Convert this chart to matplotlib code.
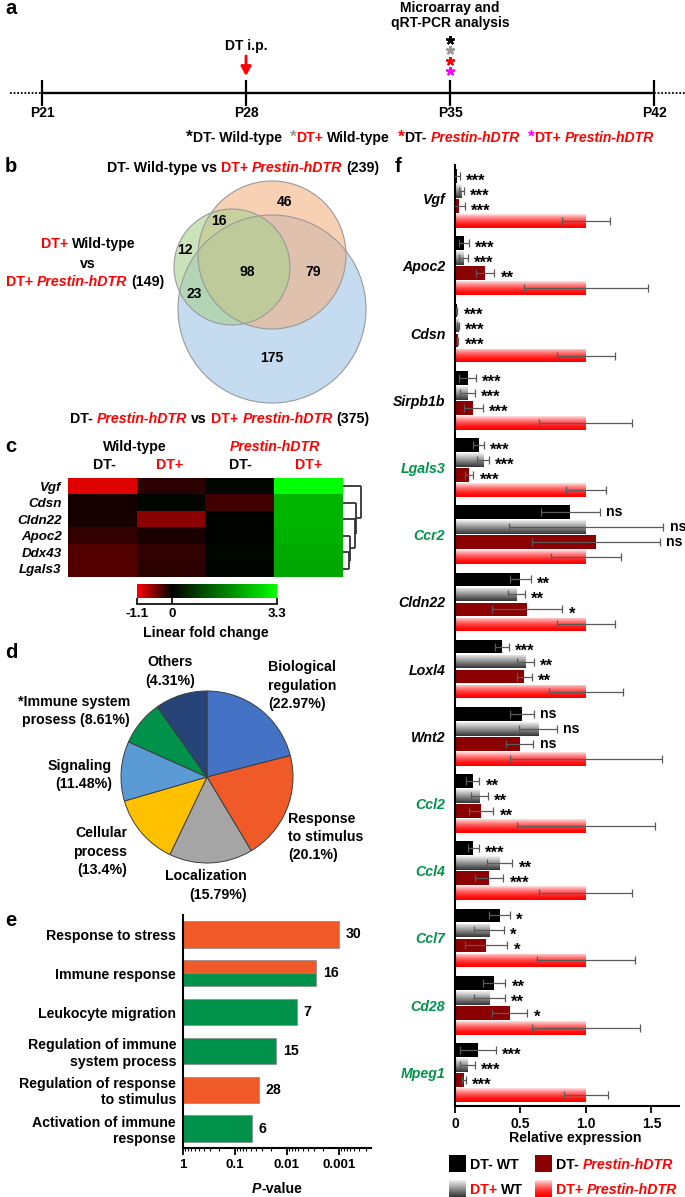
import numpy as np
import matplotlib
matplotlib.use('Agg')
import matplotlib.pyplot as plt
from matplotlib.colors import LinearSegmentedColormap
from matplotlib.patches import Circle, Rectangle
from matplotlib.ticker import LogLocator, NullFormatter, FixedLocator

# ======================= DATA =======================
# panel a
timeline_days = [21, 28, 35, 42]
timeline_labels = ['P21', 'P28', 'P35', 'P42']
injection_day = 28
analysis_day = 35
group_star_colors = ['black', '#999999', 'red', 'magenta']

# panel b (Venn)
venn_counts = [46, 16, 12, 98, 79, 23, 175]
venn_set_sizes = [239, 149, 375]

# panel c (heatmap)
heat_genes = ['Vgf', 'Cdsn', 'Cldn22', 'Apoc2', 'Ddx43', 'Lgals3']
heat_cols = ['DT-', 'DT+', 'DT-', 'DT+']
heat_values = [
    [-0.95, -0.18, 0.08, 3.30],
    [-0.10, 0.08, -0.28, 2.35],
    [-0.10, -0.60, 0.04, 2.35],
    [-0.22, -0.12, 0.04, 2.30],
    [-0.35, -0.22, 0.12, 2.20],
    [-0.35, -0.18, 0.07, 2.15],
]
heat_vmin, heat_vmax = -1.1, 3.3
dendro_merges = [(4, 5, 6.0), (3, 6, 7.0), (2, 7, 12.0), (1, 8, 13.5), (0, 9, 18.5)]

# panel d (pie)
pie_names = ['Biological regulation', 'Response to stimulus', 'Localization',
             'Cellular process', 'Signaling', 'Immune system prosess', 'Others']
pie_percent_text = [22.97, 20.1, 15.79, 13.4, 11.48, 8.61, 4.31]
pie_sizes = [21.0, 20.4, 15.7, 13.4, 11.2, 8.5, 9.8]
pie_colors = ['#4472C4', '#F05A28', '#A5A5A5', '#FFC000', '#5B9BD5', '#00914A', '#264478']

# panel e (GO terms)
go_terms = ['Response to stress', 'Immune response', 'Leukocyte migration',
            'Regulation of immune\nsystem process', 'Regulation of response\nto stimulus',
            'Activation of immune\nresponse']
go_pvalues = [0.001, 0.0027, 0.0065, 0.016, 0.035, 0.047]
go_counts = [30, 16, 7, 15, 28, 6]
go_category = ['stimulus', 'both', 'immune', 'immune', 'stimulus', 'immune']

# panel f (qRT-PCR)
genes = ['Vgf', 'Apoc2', 'Cdsn', 'Sirpb1b', 'Lgals3', 'Ccr2', 'Cldn22', 'Loxl4',
         'Wnt2', 'Ccl2', 'Ccl4', 'Ccl7', 'Cd28', 'Mpeg1']
immune_genes = ['Lgals3', 'Ccr2', 'Ccl2', 'Ccl4', 'Ccl7', 'Cd28', 'Mpeg1']
wt_neg_mean = [0.013, 0.066, 0.015, 0.096, 0.18, 0.88, 0.50, 0.357, 0.51, 0.137, 0.14, 0.34, 0.30, 0.175]
wt_neg_sem = [0.023, 0.038, 0.004, 0.065, 0.04, 0.225, 0.078, 0.055, 0.09, 0.05, 0.04, 0.08, 0.085, 0.135]
wt_neg_sig = ['***', '***', '***', '***', '***', 'ns', '**', '***', 'ns', '**', '***', '*', '**', '***']
wt_pos_mean = [0.05, 0.063, 0.025, 0.096, 0.215, 1.0, 0.466, 0.54, 0.635, 0.187, 0.34, 0.26, 0.263, 0.094]
wt_pos_sem = [0.018, 0.035, 0.006, 0.055, 0.045, 0.59, 0.065, 0.063, 0.145, 0.063, 0.098, 0.113, 0.115, 0.057]
wt_pos_sig = ['***', '***', '***', '***', '***', 'ns', '**', '**', 'ns', '**', '**', '*', '**', '***']
tg_neg_mean = [0.033, 0.23, 0.02, 0.14, 0.11, 1.076, 0.55, 0.53, 0.496, 0.2, 0.26, 0.24, 0.418, 0.068]
tg_neg_sem = [0.04, 0.07, 0.006, 0.073, 0.03, 0.49, 0.27, 0.058, 0.103, 0.093, 0.108, 0.16, 0.133, 0.016]
tg_neg_sig = ['***', '**', '***', '***', '***', 'ns', '*', '**', 'ns', '**', '***', '*', '*', '***']
tg_pos_mean = [1.0] * 14
tg_pos_sem = [0.18, 0.47, 0.225, 0.355, 0.155, 0.265, 0.22, 0.28, 0.58, 0.53, 0.355, 0.375, 0.41, 0.17]
tg_pos_sig = [''] * 14

# ======================= STYLE / LAYOUT =======================
FONT = ['Liberation Sans', 'DejaVu Sans']
plt.rcParams['font.family'] = FONT
plt.rcParams['font.weight'] = 'bold'
plt.rcParams['axes.labelweight'] = 'bold'
RED = '#FF0000'
GREEN_TXT = '#00934A'

W, H = 685, 1197
fig = plt.figure(figsize=(W / 100, H / 100), dpi=100)


def px_axes(x0, y0, x1, y1):
    return fig.add_axes([x0 / W, 1 - y1 / H, (x1 - x0) / W, (y1 - y0) / H])


ax0 = px_axes(0, 0, W, H)
ax0.set_xlim(0, W)
ax0.set_ylim(H, 0)
ax0.axis('off')
ax0.set_zorder(10)


def rich(x, y, parts, size=10, ha='left'):
    """parts: list of (text, color, style[, size]); y = vertical centre of caps (pixels, downward)."""
    size_px = size * 100 / 72
    base = y + 0.358 * size_px
    texts = []
    gap = 0
    for part in parts:
        s, c, st = part[:3]
        fs = part[3] if len(part) > 3 else size
        lead = len(s) - len(s.lstrip(' '))
        trail = len(s) - len(s.rstrip(' '))
        core = s.strip(' ')
        g = (gap + lead) * 0.278 * size
        kw = dict(color=c, fontsize=fs, fontweight='bold', fontstyle=st)
        if not texts:
            t = ax0.text(x + g * 100 / 72, base, core, ha='left', va='baseline', **kw)
        else:
            t = ax0.annotate(core, xy=(1, 0), xycoords=texts[-1], xytext=(g, 0),
                             textcoords='offset points', ha='left', va='bottom', **kw)
        texts.append(t)
        gap = trail
    if ha != 'left':
        r = fig.canvas.get_renderer()
        x0 = texts[0].get_window_extent(r).x0
        x1 = texts[-1].get_window_extent(r).x1
        w = x1 - x0
        shift = w / 2 if ha == 'center' else w
        texts[0].set_x(texts[0].get_position()[0] - shift)
    return texts


def txt(x, y, s, size=10, ha='center', color='black', style='normal', **kw):
    return ax0.text(x, y, s, ha=ha, va='center', fontsize=size, fontweight='bold',
                    color=color, fontstyle=style, **kw)


N = 'normal'
I = 'italic'

# panel letters
for lab, (x, y) in {'a': (11, 9), 'b': (11, 167), 'c': (11, 447), 'd': (11, 652),
                    'e': (11, 921), 'f': (398, 167)}.items():
    txt(x, y, lab, size=14.5, ha='center')

# ======================= PANEL A =======================
ax_a = px_axes(0, 0, W, 150)
ppd = (654 - 42) / (timeline_days[-1] - timeline_days[0])
ax_a.set_xlim(timeline_days[0] - 42 / ppd, timeline_days[-1] + (W - 654) / ppd)
ax_a.set_ylim(150, 0)
ax_a.axis('off')
ax_a.plot([timeline_days[0], timeline_days[-1]], [93, 93], color='black', lw=1.7,
          solid_capstyle='butt')
ax_a.plot([timeline_days[0] - 1.1, timeline_days[0]], [93, 93], color='black', lw=1.3,
          ls=(0, (1, 1)))
ax_a.plot([timeline_days[-1], timeline_days[-1] + 1.05], [93, 93], color='black', lw=1.3,
          ls=(0, (1, 1)))
ax_a.vlines(timeline_days, 80, 106, color='black', lw=1.6)
for d, lab in zip(timeline_days, timeline_labels):
    ax_a.text(d, 113, lab, ha='center', va='center', fontsize=10, fontweight='bold')
ax_a.text(injection_day, 46, 'DT i.p.', ha='center', va='center', fontsize=10, fontweight='bold')
ax_a.annotate('', xy=(injection_day, 76), xytext=(injection_day, 56),
              arrowprops=dict(arrowstyle='-|>,head_length=0.55,head_width=0.3', color='red',
                              lw=2, shrinkA=0, shrinkB=0))
ax_a.text(analysis_day, 8, 'Microarray and', ha='center', va='center', fontsize=10, fontweight='bold')
ax_a.text(analysis_day, 23, 'qRT-PCR analysis', ha='center', va='center', fontsize=10,
          fontweight='bold')
# stacked group markers (one asterisk per group)
for i, c in enumerate(group_star_colors):
    ax_a.plot(analysis_day, 40 + 10.3 * i, linestyle='none', marker=(5, 2, 0), ms=6.2,
              mew=1.6, color=c)

rich(186, 137, [('*', 'black', N, 12.5), ('DT- Wild-type', 'black', N),
                ('  *', '#999999', N, 12.5), ('DT+', RED, N), (' Wild-type', 'black', N),
                ('  *', RED, N, 12.5), ('DT- ', 'black', N), ('Prestin-hDTR', RED, I),
                ('  *', 'magenta', N, 12.5), ('DT+ ', RED, N), ('Prestin-hDTR', RED, I)],
     size=10.1, ha='left')

# ======================= PANEL B (Venn) =======================
venn_circles = [((272, 255), 74, '#F4B183'), ((232, 267), 58, '#A9D18E'), ((272, 309), 94, '#9DC3E6')]
for (cx, cy), rad, col in [venn_circles[2], venn_circles[0], venn_circles[1]]:
    ax0.add_patch(Circle((cx, cy), rad, facecolor=col, alpha=0.6, edgecolor='none', zorder=1))
    ax0.add_patch(Circle((cx, cy), rad, facecolor='none', edgecolor='#9a9a9a', lw=0.8, zorder=2))
venn_pos = [(285, 202), (219, 221), (185, 250), (247, 272), (313, 272), (194, 294), (272, 358)]
for (x, y), n in zip(venn_pos, venn_counts):
    txt(x, y, str(n), size=10)
rich(243, 167, [('DT- Wild-type vs ', 'black', N), ('DT+ ', RED, N), ('Prestin-hDTR', RED, I),
                (' (%d)' % venn_set_sizes[0], 'black', N)], size=10.2, ha='center')
rich(88, 243, [('DT+', RED, N), (' Wild-type', 'black', N)], size=10.2, ha='center')
rich(88, 263, [('vs', 'black', N)], size=10.2, ha='center')
rich(85, 281, [('DT+ ', RED, N), ('Prestin-hDTR', RED, I), (' (%d)' % venn_set_sizes[1], 'black', N)],
     size=10.2, ha='center')
rich(220, 418, [('DT- ', 'black', N), ('Prestin-hDTR', RED, I), (' vs ', 'black', N), ('DT+ ', RED, N),
                ('Prestin-hDTR', RED, I), (' (%d)' % venn_set_sizes[2], 'black', N)], size=10.2,
     ha='center')

# ======================= PANEL C (heatmap) =======================
cmap = LinearSegmentedColormap.from_list(
    'rg', [(0, '#FF0000'), (-heat_vmin / (heat_vmax - heat_vmin), '#000000'), (1, '#00FF00')])
ax_h = px_axes(68, 478, 343, 577)
ax_h.imshow(np.array(heat_values), cmap=cmap, vmin=heat_vmin, vmax=heat_vmax, aspect='auto',
            interpolation='nearest')
ax_h.set_xticks([])
ax_h.set_yticks(range(len(heat_genes)))
ax_h.set_yticklabels(heat_genes, fontstyle='italic', fontweight='bold', fontsize=9.6)
ax_h.tick_params(axis='y', length=0, pad=4.5)
for s in ax_h.spines.values():
    s.set_visible(False)

txt(135, 447, 'Wild-type', size=10.2)
txt(275, 447, 'Prestin-hDTR', size=10.2, color=RED, style=I)
for x, lab in zip([104, 170, 240, 309], heat_cols):
    txt(x, 465, lab, size=10.2, color=(RED if lab == 'DT+' else 'black'))

# dendrogram
ax_d = px_axes(343, 478, 366, 577)
ax_d.set_xlim(0, 23)
ax_d.set_ylim(len(heat_genes) - 0.5, -0.5)
ax_d.axis('off')
pos = {i: float(i) for i in range(len(heat_genes))}
hgt = {i: 0.0 for i in range(len(heat_genes))}
nid = len(heat_genes)
for a, b, h in dendro_merges:
    for ch in (a, b):
        ax_d.plot([hgt[ch], h], [pos[ch], pos[ch]], color='#333333', lw=1.3, solid_capstyle='butt')
    ax_d.plot([h, h], [pos[a], pos[b]], color='#333333', lw=1.3, solid_capstyle='butt')
    pos[nid] = (pos[a] + pos[b]) / 2
    hgt[nid] = h
    nid += 1

# colorbar
ax_cb = px_axes(137, 584, 277, 598)
ax_cb.imshow(np.linspace(heat_vmin, heat_vmax, 256)[None, :], cmap=cmap, vmin=heat_vmin,
             vmax=heat_vmax, extent=(heat_vmin, heat_vmax, 0, 1), aspect='auto')
ax_cb.set_xlim(heat_vmin, heat_vmax)
ax_cb.set_ylim(0, 1)
ax_cb.set_yticks([])
for s in ['top', 'left', 'right']:
    ax_cb.spines[s].set_visible(False)
ax_cb.spines['bottom'].set_position(('outward', 4))
ax_cb.spines['bottom'].set_linewidth(1.2)
ax_cb.set_xticks([heat_vmin, 0, heat_vmax])
ax_cb.set_xticklabels(['-1.1', '0', '3.3'], fontsize=9.6, fontweight='bold')
ax_cb.tick_params(axis='x', direction='in', length=4, width=1.2, pad=3)
txt(206, 633, 'Linear fold change', size=10.2)

# ======================= PANEL D (pie) =======================
pr = 86
ax_p = px_axes(207 - pr, 777 - pr, 207 + pr, 777 + pr)
ax_p.pie(pie_sizes, colors=pie_colors, startangle=90, counterclock=False, radius=1,
         wedgeprops=dict(edgecolor='#3c3c3c', linewidth=0.7))
ax_p.set_xlim(-1, 1)
ax_p.set_ylim(-1, 1)
ax_p.axis('off')

pie_label_layout = [
    ('left', 268, [667, 686, 704], ['Biological', 'regulation', '(%.2f%%)']),
    ('left', 288, [819, 837, 855], ['Response', 'to stimulus', '(%.1f%%)']),
    ('right', 247, [876, 895], ['Localization', '(%.2f%%)']),
    ('right', 127, [833, 852, 870], ['Cellular', 'process', '(%.1f%%)']),
    ('right', 112, [766, 784], ['Signaling', '(%.2f%%)']),
    ('right', 130, [702, 720], ['*Immune system', 'prosess (%.2f%%)']),
    ('center', 170, [662, 681], ['Others', '(%.2f%%)']),
]
for (ha, x, ys, lines), pct in zip(pie_label_layout, pie_percent_text):
    for y, line in zip(ys, lines):
        s = line % pct if '%' in line else line
        txt(x, y, s, size=10.2, ha=ha)

# ======================= PANEL E (GO bars) =======================
ax_e = px_axes(183, 915, 371, 1148)
ax_e.set_xscale('log')
cat_col = {'stimulus': '#F05A28', 'immune': '#00914A'}
ys = np.arange(len(go_terms))
bh = 0.68
for y, p, cat in zip(ys, go_pvalues, go_category):
    if cat == 'both':
        ax_e.barh(y - bh / 4, p - 1, left=1, height=bh / 2, color=cat_col['stimulus'],
                  edgecolor='#8a8a8a', lw=0.5)
        ax_e.barh(y + bh / 4, p - 1, left=1, height=bh / 2, color=cat_col['immune'],
                  edgecolor='#8a8a8a', lw=0.5)
    else:
        ax_e.barh(y, p - 1, left=1, height=bh, color=cat_col[cat], edgecolor='#8a8a8a', lw=0.5)
for y, p, n in zip(ys, go_pvalues, go_counts):
    ax_e.annotate(str(n), xy=(p, y), xytext=(5, 0), textcoords='offset points', ha='left',
                  va='center', fontsize=10.2, fontweight='bold')
ax_e.set_xlim(1, 2.4e-4)
ax_e.set_ylim(len(go_terms) - 0.5, -0.5)
ax_e.set_yticks(ys)
ax_e.set_yticklabels(go_terms, fontsize=10.2, fontweight='bold')
ax_e.tick_params(axis='y', length=0, pad=5)
ax_e.xaxis.set_major_locator(FixedLocator([1, 0.1, 0.01, 0.001]))
ax_e.set_xticklabels(['1', '0.1', '0.01', '0.001'], fontsize=9.6, fontweight='bold')
ax_e.xaxis.set_minor_locator(LogLocator(base=10, subs=np.arange(2, 10), numticks=20))
ax_e.xaxis.set_minor_formatter(NullFormatter())
ax_e.tick_params(axis='x', which='major', direction='out', length=5, width=1.3, pad=3)
ax_e.tick_params(axis='x', which='minor', direction='out', length=2.5, width=0.8)
for s in ['top', 'right']:
    ax_e.spines[s].set_visible(False)
for s in ['left', 'bottom']:
    ax_e.spines[s].set_linewidth(1.5)
rich(277, 1188, [('P', 'black', I), ('-value', 'black', N)], size=10.2, ha='center')

# ======================= PANEL F (qRT-PCR bars) =======================
ax_f = px_axes(455, 165, 679, 1106)
n_genes = len(genes)
yg = np.arange(n_genes)
step = 0.2232
bar_h = 0.205

t = np.linspace(0, 1, 64)[:, None]
gray_grad = np.dstack([0.95 - 0.75 * t] * 3)
red_grad = np.dstack([np.ones_like(t), 0.88 * (1 - t) ** 1.6, 0.88 * (1 - t) ** 1.6])
series = [
    (wt_neg_mean, wt_neg_sem, wt_neg_sig, 'black', None),
    (wt_pos_mean, wt_pos_sem, wt_pos_sig, None, gray_grad),
    (tg_neg_mean, tg_neg_sem, tg_neg_sig, '#8B0000', None),
    (tg_pos_mean, tg_pos_sem, tg_pos_sig, None, red_grad),
]
for k, (m, e, sig, col, grad) in enumerate(series):
    y = yg + (k - 1.5) * step
    bars = ax_f.barh(y, m, height=bar_h, color=(col if col else 'none'), edgecolor='none', zorder=2)
    if grad is not None:
        for patch in bars:
            x0 = patch.get_x()
            y0 = patch.get_y()
            im = ax_f.imshow(grad, extent=(x0, x0 + patch.get_width(), y0 + patch.get_height(), y0),
                             aspect='auto', interpolation='bilinear', zorder=2)
            im.set_clip_path(patch)
    ax_f.errorbar(m, y, xerr=e, fmt='none', ecolor='#5a5a5a', elinewidth=0.9, capsize=2.6,
                  capthick=0.9, zorder=3)
    for yy, mm, ee, s in zip(y, m, e, sig):
        if not s:
            continue
        if s == 'ns':
            fs, off = 10.2, -0.26 * 10.2
        else:
            fs, off = 12, -0.57 * 12
        ax_f.annotate(s, xy=(mm + ee, yy), xytext=(4.5, off), textcoords='offset points',
                      ha='left', va='baseline', fontsize=fs, fontweight='bold',
                      annotation_clip=False, zorder=4)

ax_f.set_xlim(0, 1.71)
ax_f.set_ylim(n_genes - 0.5, -0.5)
ax_f.set_yticks(yg)
ax_f.set_yticklabels(genes, fontstyle='italic', fontweight='bold', fontsize=10.2)
for lab in ax_f.get_yticklabels():
    if lab.get_text() in immune_genes:
        lab.set_color(GREEN_TXT)
ax_f.tick_params(axis='y', length=0, pad=7)
ax_f.set_xticks([0, 0.5, 1.0, 1.5])
ax_f.set_xticklabels(['0', '0.5', '1.0', '1.5'], fontsize=10, fontweight='bold')
ax_f.tick_params(axis='x', direction='out', length=5, width=1.3, pad=3)
for s in ['top', 'right']:
    ax_f.spines[s].set_visible(False)
for s in ['left', 'bottom']:
    ax_f.spines[s].set_linewidth(1.5)
txt(575, 1138, 'Relative expression', size=10.2)

# legend for panel f
leg_items = [
    ((449, 1155), 'black', None, [('DT- WT', 'black', N)]),
    ((535, 1155), '#8B0000', None, [('DT- ', 'black', N), ('Prestin-hDTR', RED, I)]),
    ((449, 1180), None, gray_grad, [('DT+', RED, N), (' WT', 'black', N)]),
    ((535, 1180), None, red_grad, [('DT+ ', RED, N), ('Prestin-hDTR', RED, I)]),
]
for (x, y), col, grad, parts in leg_items:
    if grad is None:
        ax0.add_patch(Rectangle((x, y), 17, 17, facecolor=col, edgecolor='none'))
    else:
        ax0.imshow(grad, extent=(x, x + 17, y + 17, y), aspect='auto', interpolation='bilinear')
    rich(x + 21, y + 8.5, parts, size=10.2, ha='left')

ax0.set_xlim(0, W)
ax0.set_ylim(H, 0)

fig.savefig('out.png', dpi=100)
